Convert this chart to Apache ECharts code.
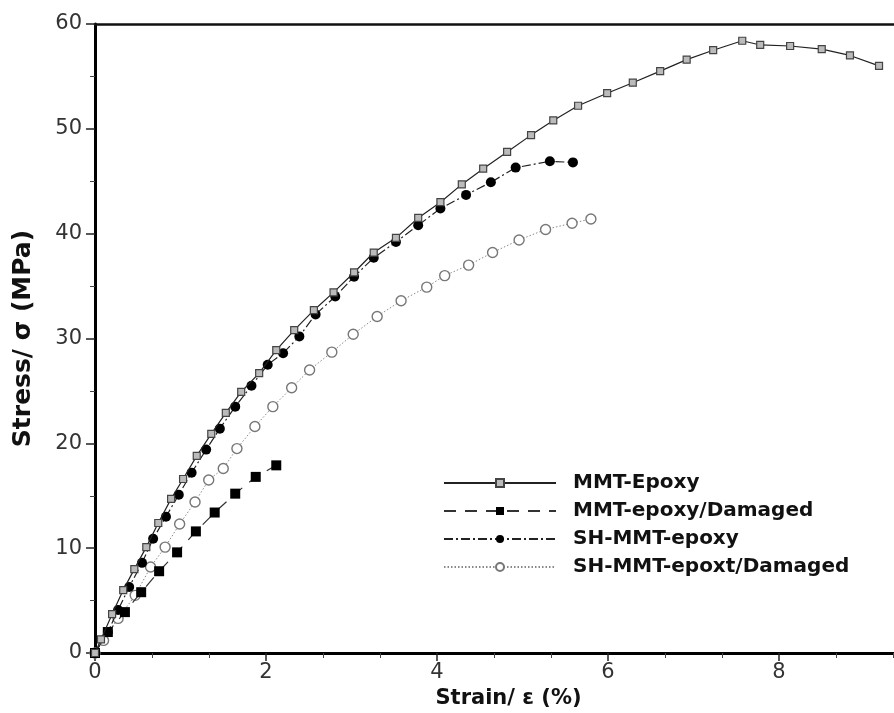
<!DOCTYPE html>
<html>
<head>
<meta charset="utf-8">
<title>Stress-strain</title>
<script src="https://cdn.jsdelivr.net/npm/echarts@6/dist/echarts.min.js"></script>
<style>
  html, body { margin: 0; padding: 0; background: #fff; }
  #chart { width: 894px; height: 713px; }
</style>
</head>
<body>
<div id="chart"></div>
<script>
// strain (%) / stress (MPa) pairs
const mmtEpoxy = [
  [0, 0], [0.07, 1.3], [0.2, 3.7], [0.33, 6.0], [0.46, 8.0], [0.6, 10.1],
  [0.74, 12.4], [0.89, 14.7], [1.03, 16.6], [1.19, 18.8], [1.36, 20.9],
  [1.53, 22.9], [1.71, 24.9], [1.92, 26.7], [2.12, 28.9], [2.33, 30.8],
  [2.56, 32.7], [2.79, 34.4], [3.03, 36.3], [3.26, 38.2], [3.52, 39.6],
  [3.78, 41.5], [4.04, 43.0], [4.29, 44.7], [4.54, 46.2], [4.82, 47.8],
  [5.1, 49.4], [5.36, 50.8], [5.65, 52.2], [5.99, 53.4], [6.29, 54.4],
  [6.61, 55.5], [6.92, 56.6], [7.23, 57.5], [7.57, 58.4], [7.78, 58.0],
  [8.13, 57.9], [8.5, 57.6], [8.83, 57.0], [9.17, 56.0]
]
const mmtDamaged = [
  [0, 0], [0.15, 2.0], [0.35, 3.9], [0.54, 5.8], [0.75, 7.8], [0.96, 9.6],
  [1.18, 11.6], [1.4, 13.4], [1.64, 15.2], [1.88, 16.8], [2.12, 17.9]
]
const shEpoxy = [
  [0, 0], [0.15, 2.0], [0.27, 4.1], [0.4, 6.3], [0.55, 8.6], [0.68, 10.9],
  [0.83, 13.0], [0.98, 15.1], [1.13, 17.2], [1.3, 19.4], [1.46, 21.4],
  [1.64, 23.5], [1.83, 25.5], [2.02, 27.5], [2.2, 28.6], [2.39, 30.2],
  [2.58, 32.3], [2.81, 34.0], [3.03, 35.9], [3.26, 37.7], [3.52, 39.2],
  [3.78, 40.8], [4.04, 42.4], [4.34, 43.7], [4.63, 44.9], [4.92, 46.3],
  [5.32, 46.9], [5.59, 46.8]
]
const shDamaged = [
  [0, 0], [0.1, 1.2], [0.27, 3.3], [0.47, 5.5], [0.65, 8.2], [0.82, 10.1],
  [0.99, 12.3], [1.17, 14.4], [1.33, 16.5], [1.5, 17.6], [1.66, 19.5],
  [1.87, 21.6], [2.08, 23.5], [2.3, 25.3], [2.51, 27.0], [2.77, 28.7],
  [3.02, 30.4], [3.3, 32.1], [3.58, 33.6], [3.88, 34.9], [4.09, 36.0],
  [4.37, 37.0], [4.65, 38.2], [4.96, 39.4], [5.27, 40.4], [5.58, 41.0],
  [5.8, 41.4]
]
const seriesNames = ['MMT-Epoxy', 'MMT-epoxy/Damaged', 'SH-MMT-epoxy', 'SH-MMT-epoxt/Damaged']

const font = 'DejaVu Sans'
const chart = echarts.init(document.getElementById('chart'))

const option = {
  animation: false,
  // the original figure is cropped on the right, past strain ~9.3
  grid: { left: 95, right: -56, top: 24, bottom: 60, outerBoundsMode: 'none', containLabel: false },
  legend: {
    orient: 'vertical',
    left: 443,
    top: 473,
    padding: 0,
    itemWidth: 112,
    itemHeight: 10,
    itemGap: 8,
    textStyle: {
      fontFamily: font,
      fontWeight: 'bold',
      fontSize: 20,
      color: '#111',
      padding: [0, 0, 0, 12]
    },
    data: seriesNames
  },
  xAxis: [
    {
      type: 'value',
      min: 0,
      max: 10,
      interval: 2,
      name: 'Strain/ ε (%)',
      nameLocation: 'middle',
      nameGap: 35,
      nameTextStyle: {
        fontFamily: font,
        fontWeight: 'bold',
        fontSize: 21,
        color: '#111',
        padding: [0, 28, 0, 0]
      },
      axisLine: { lineStyle: { color: '#000', width: 3 } },
      axisTick: { length: 8, lineStyle: { color: '#222', width: 1.5 } },
      minorTick: { show: true, splitNumber: 3, length: 5, lineStyle: { color: '#444', width: 1 } },
      axisLabel: { fontFamily: font, fontSize: 21, color: '#333', margin: 9 },
      splitLine: { show: false }
    },
    {
      // top frame line
      type: 'value',
      position: 'top',
      min: 0,
      max: 10,
      axisLine: { show: true, onZero: false, lineStyle: { color: '#111', width: 2.5 } },
      axisTick: { show: false },
      axisLabel: { show: false },
      splitLine: { show: false }
    }
  ],
  yAxis: {
    type: 'value',
    min: 0,
    max: 60,
    interval: 10,
    name: 'Stress/ σ (MPa)',
    nameLocation: 'middle',
    nameGap: 59,
    nameTextStyle: {
      fontFamily: font,
      fontWeight: 'bold',
      fontSize: 25,
      color: '#111'
    },
    axisLine: { show: true, lineStyle: { color: '#000', width: 3 } },
    axisTick: { length: 9, lineStyle: { color: '#222', width: 1.5 } },
    minorTick: { show: true, splitNumber: 2, length: 5, lineStyle: { color: '#444', width: 1 } },
    axisLabel: { fontFamily: font, fontSize: 21, color: '#333', margin: 13 },
    splitLine: { show: false }
  },
  series: [
    {
      name: seriesNames[0],
      type: 'line',
      data: mmtEpoxy,
      symbol: 'rect',
      symbolSize: 7,
      z: 4,
      lineStyle: { color: '#222', width: 1.2 },
      itemStyle: { color: '#bbb', borderColor: '#444', borderWidth: 1.2 }
    },
    {
      name: seriesNames[1],
      type: 'line',
      data: mmtDamaged,
      symbol: 'rect',
      symbolSize: 10,
      z: 3,
      lineStyle: { color: '#333', width: 1.2, type: [12, 9] },
      itemStyle: { color: '#000', borderColor: '#000', borderWidth: 0 }
    },
    {
      name: seriesNames[2],
      type: 'line',
      data: shEpoxy,
      symbol: 'circle',
      symbolSize: 10,
      z: 3,
      lineStyle: { color: '#222', width: 1.2, type: [9, 3, 2, 3] },
      itemStyle: { color: '#000', borderColor: '#000', borderWidth: 0 }
    },
    {
      name: seriesNames[3],
      type: 'line',
      data: shDamaged,
      symbol: 'circle',
      symbolSize: 10,
      z: 2,
      lineStyle: { color: '#888', width: 1, type: [1.5, 2] },
      itemStyle: { color: '#fff', borderColor: '#777', borderWidth: 1.4 }
    }
  ]
}

chart.setOption(option)
</script>
</body>
</html>
